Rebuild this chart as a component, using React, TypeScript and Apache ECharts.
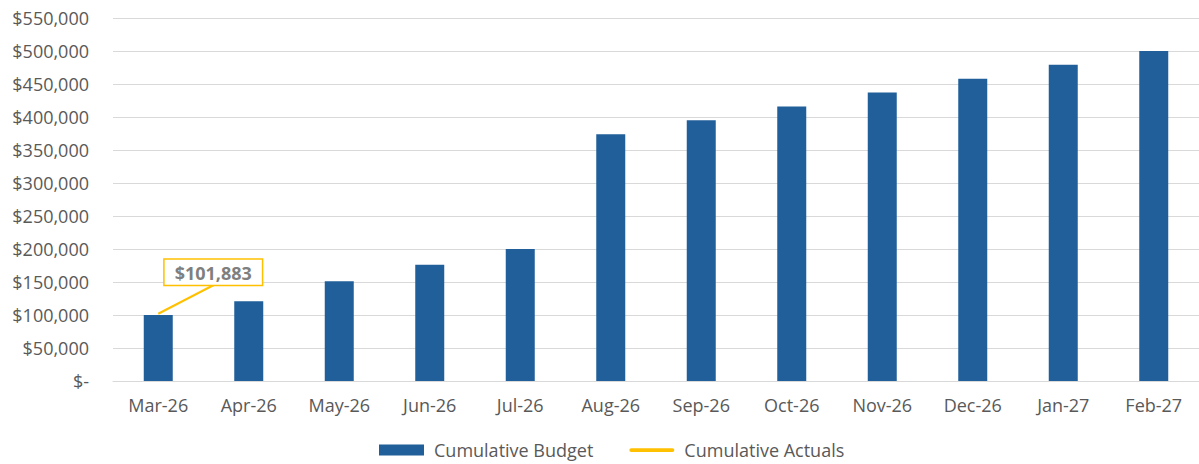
import React, { useEffect, useRef } from "react";
import * as echarts from "echarts";

const categories = ["Mar-26", "Apr-26", "May-26", "Jun-26", "Jul-26", "Aug-26", "Sep-26", "Oct-26", "Nov-26", "Dec-26", "Jan-27", "Feb-27"];
const cumulativeBudget = [100000, 121000, 151000, 176000, 200000, 374000, 395000, 416000, 437000, 458000, 479000, 500000];
const cumulativeActuals: (number | null)[] = [101883, null, null, null, null, null, null, null, null, null, null, null];

const FONT = "'Open Sans', sans-serif";
const fmtMoney = (v: number) => (v === 0 ? "$-" : "$" + v.toLocaleString("en-US"));

export default function App() {
  const ref = useRef<HTMLDivElement>(null);
  useEffect(() => {
    document.body.style.margin = "0";
    const chart = echarts.init(ref.current!, undefined, { renderer: "svg" });
    chart.setOption({
      animation: false,
      backgroundColor: "#ffffff",
      grid: { left: 113, right: -8, top: 18, bottom: 83, containLabel: false },
      xAxis: {
        type: "category",
        data: categories,
        axisLine: { lineStyle: { color: "#D9D9D9", width: 1 } },
        axisTick: { show: false },
        axisLabel: { color: "#595959", fontFamily: FONT, fontSize: 18, margin: 15 },
      },
      yAxis: {
        type: "value",
        min: 0,
        max: 550000,
        interval: 50000,
        axisLine: { show: false },
        axisTick: { show: false },
        splitLine: { lineStyle: { color: "#D9D9D9", width: 1 } },
        axisLabel: { color: "#595959", fontFamily: FONT, fontSize: 18, margin: 24, formatter: fmtMoney },
      },
      legend: {
        bottom: 0,
        left: 374,
        itemWidth: 45,
        itemHeight: 11,
        itemGap: 36,
        textStyle: { color: "#595959", fontFamily: FONT, fontSize: 18, padding: [0, 0, 0, 5] },
        data: [
          { name: "Cumulative Budget", icon: "rect" },
          { name: "Cumulative Actuals", icon: "path://M2,0 L46,0 A2,2 0 0 1 46,4 L2,4 A2,2 0 0 1 2,0 Z" },
        ],
      },
      series: [
        {
          name: "Cumulative Budget",
          type: "bar",
          data: cumulativeBudget,
          barWidth: 29,
          itemStyle: { color: "#215F9A" },
        },
        {
          name: "Cumulative Actuals",
          type: "line",
          data: cumulativeActuals,
          symbol: "circle",
          symbolSize: 0.1,
          itemStyle: { color: "#FFC000" },
          lineStyle: { color: "#FFC000", width: 2.5 },
          label: {
            show: true,
            position: "top",
            distance: 5,
            formatter: (p: any) => (p.value == null ? "" : fmtMoney(p.value)),
            color: "#7F7F7F",
            fontFamily: FONT,
            fontWeight: "bold",
            fontSize: 18,
            backgroundColor: "#ffffff",
            borderColor: "#FFC000",
            borderWidth: 1.5,
            padding: [4, 10, 3, 10],
          },
          labelLayout: { dx: 55, dy: -24 },
          z: 5,
        },
      ],
    });
    const p = chart.convertToPixel({ seriesIndex: 1 }, [0, cumulativeActuals[0] as number]) as number[];
    chart.setOption({
      graphic: [
        {
          type: "line",
          shape: { x1: p[0], y1: p[1], x2: p[0] + 56, y2: p[1] - 29 },
          style: { stroke: "#FFC000", lineWidth: 2 },
          z: 4,
        },
      ],
    });
    return () => chart.dispose();
  }, []);
  return <div ref={ref} style={{ width: 1199, height: 464, position: "absolute", left: 0, top: 0 }} />;
}
